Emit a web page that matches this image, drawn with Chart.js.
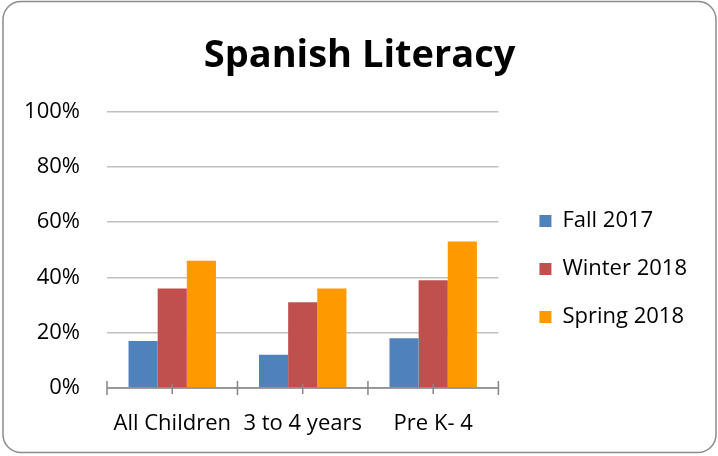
<!DOCTYPE html>
<html>
<head>
<meta charset="utf-8">
<script src="https://cdn.jsdelivr.net/npm/chart.js@4"></script>
<style>
  html, body { margin: 0; padding: 0; background: #fff; }
  #wrap { width: 718px; height: 456px; position: relative; }
</style>
</head>
<body>
<div id="wrap"><canvas id="chart" width="718" height="456"></canvas></div>
<script>
const categories = ["All Children", "3 to 4 years", "Pre K- 4"];
const fall2017 = [0.17, 0.12, 0.18];
const winter2018 = [0.36, 0.31, 0.39];
const spring2018 = [0.46, 0.36, 0.53];
const seriesNames = ["Fall 2017", "Winter 2018", "Spring 2018"];
const seriesColors = ["#4f81bd", "#c0504d", "#ff9900"];

const FONT = "'Open Sans', sans-serif";

// rounded frame around the whole chart
const framePlugin = {
  id: "frame",
  beforeDraw(chart) {
    const ctx = chart.ctx;
    ctx.save();
    ctx.fillStyle = "#fff";
    ctx.fillRect(0, 0, chart.width, chart.height);
    ctx.strokeStyle = "#8c8c8c";
    ctx.lineWidth = 1.5;
    ctx.beginPath();
    ctx.roundRect(3, 1.5, 713, 451, 18);
    ctx.stroke();
    ctx.restore();
  }
};

// excel style tick marks on the category axis (boundaries and centres)
const tickPlugin = {
  id: "catTicks",
  afterDatasetsDraw(chart) {
    const x = chart.scales.x;
    const y = chart.scales.y.getPixelForValue(0);
    const ctx = chart.ctx;
    const step = x.getPixelForValue(1) - x.getPixelForValue(0);
    ctx.save();
    ctx.strokeStyle = "#868686";
    ctx.lineWidth = 1.5;
    ctx.beginPath();
    ctx.moveTo(x.left, y);
    ctx.lineTo(x.right, y);
    for (let i = 0; i < categories.length; i++) {
      const c = x.getPixelForValue(i);
      ctx.moveTo(c - step / 2, y - 7);
      ctx.lineTo(c - step / 2, y + 7);
      ctx.moveTo(c, y - 4);
      ctx.lineTo(c, y + 6);
    }
    ctx.moveTo(x.right, y - 7);
    ctx.lineTo(x.right, y + 7);
    ctx.stroke();
    ctx.restore();
  }
};

new Chart(document.getElementById("chart"), {
  type: "bar",
  data: {
    labels: categories,
    datasets: [
      { label: seriesNames[0], data: fall2017, backgroundColor: seriesColors[0] },
      { label: seriesNames[1], data: winter2018, backgroundColor: seriesColors[1] },
      { label: seriesNames[2], data: spring2018, backgroundColor: seriesColors[2] }
    ]
  },
  options: {
    responsive: false,
    animation: false,
    layout: { padding: { left: 22, right: 21, top: 0, bottom: 18 } },
    datasets: { bar: { categoryPercentage: 0.67, barPercentage: 1.0 } },
    plugins: {
      title: {
        display: true,
        text: "Spanish Literacy",
        color: "#000",
        font: { family: FONT, size: 38, weight: "bold" },
        padding: { top: 33, bottom: 33 }
      },
      legend: {
        position: "right",
        maxWidth: 300,
        title: { display: true, text: "", font: { size: 10 }, padding: { top: 44, bottom: 44 } },
        labels: {
          color: "#000",
          font: { family: FONT, size: 22 },
          boxWidth: 12,
          boxHeight: 12,
          padding: 26
        }
      },
      tooltip: { enabled: false }
    },
    scales: {
      x: {
        grid: { display: false, drawTicks: false },
        border: { display: false },
        ticks: {
          color: "#000",
          font: { family: FONT, size: 22 },
          padding: 23,
          maxRotation: 0
        },
        afterFit: s => { s.paddingLeft = 0; s.paddingRight = 0; s.height = 50; }
      },
      y: {
        min: 0,
        max: 1,
        grid: { color: "#bfbfbf", lineWidth: 1.5, drawTicks: false },
        border: { display: false },
        ticks: {
          stepSize: 0.2,
          color: "#000",
          font: { family: FONT, size: 22 },
          padding: 27,
          callback: v => Math.round(v * 100) + "%"
        },
        afterFit: s => { s.width = 85; }
      },
      gap: {
        position: "right",
        grid: { display: false, drawTicks: false },
        border: { display: false },
        ticks: { display: false },
        afterFit: s => { s.width = 15; }
      }
    }
  },
  plugins: [framePlugin, tickPlugin]
});
</script>
</body>
</html>
